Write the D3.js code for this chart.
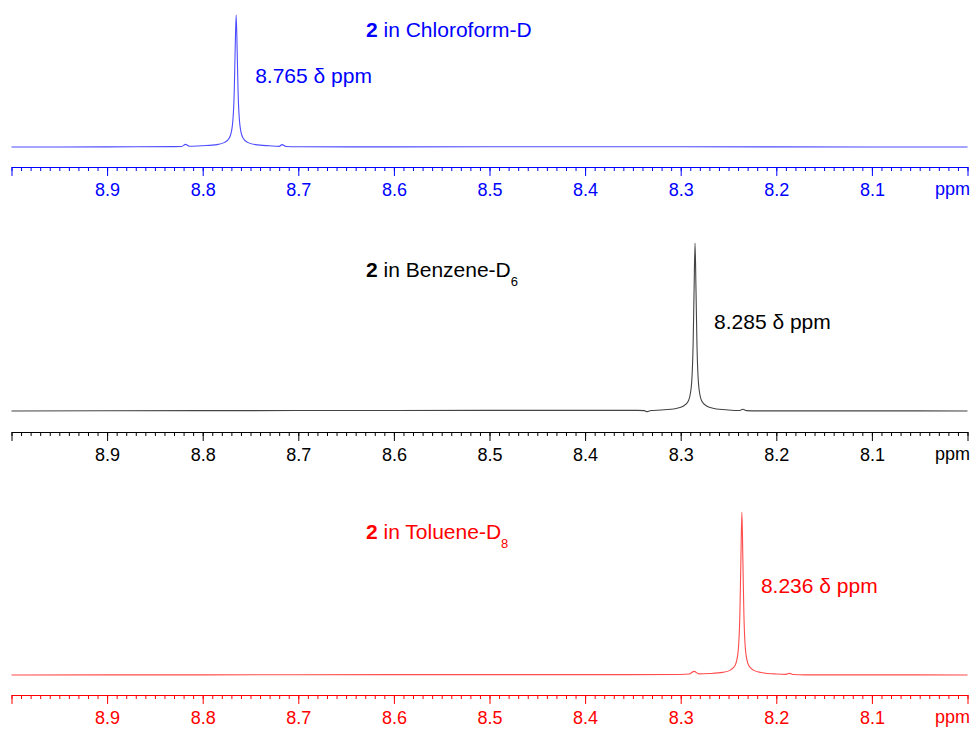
<!DOCTYPE html>
<html>
  <head>
    <meta charset="utf-8">
    <title>NMR shifts</title>
    <script src="https://d3js.org/d3.v7.min.js"></script>
    <style type="text/css">
      body {
        margin: 0;
        background: #ffffff;
        font-family: 'Liberation Sans', Arial, sans-serif;
      }
      svg text {
        font-family: 'Liberation Sans', Arial, sans-serif;
      }
    </style>
  </head>
  <body>
    <div class="chart"></div>
    <script type="text/javascript">
      // axis ticks
      var majorTicks = [9.0, 8.9, 8.8, 8.7, 8.6, 8.5, 8.4, 8.3, 8.2, 8.1, 8.0];
      var tickLabels = ['', '8.9', '8.8', '8.7', '8.6', '8.5', '8.4', '8.3', '8.2', '8.1', ''];

      // panel texts
      var solvents = ['Chloroform-D', 'Benzene-D', 'Toluene-D'];
      var subscripts = ['', '6', '8'];
      var peakShifts = [8.765, 8.285, 8.236];
      var shiftLabels = ['8.765 δ ppm', '8.285 δ ppm', '8.236 δ ppm'];

      // spectra: ppm and intensity (% of main peak)
      var chloroformPpm = [9.0, 8.9, 8.83, 8.822, 8.818, 8.814, 8.80, 8.785, 8.777, 8.772, 8.769, 8.767, 8.766, 8.765, 8.764, 8.763, 8.761, 8.758, 8.753, 8.745, 8.73, 8.72, 8.717, 8.713, 8.70, 8.6, 8.4, 8.2, 8.0];
      var chloroformInt = [0, 0.1, 0.3, 0.4, 2.0, 0.6, 1.0, 1.8, 3.5, 7, 16, 42, 75, 100, 75, 42, 16, 7, 3.5, 1.8, 0.9, 0.5, 1.8, 0.4, 0.2, 0.1, 0.2, 0.1, 0];

      var benzenePpm = [9.0, 8.8, 8.6, 8.4, 8.345, 8.338, 8.335, 8.331, 8.32, 8.305, 8.297, 8.292, 8.289, 8.287, 8.286, 8.285, 8.284, 8.283, 8.281, 8.278, 8.273, 8.265, 8.25, 8.239, 8.235, 8.231, 8.22, 8.1, 8.0];
      var benzeneInt = [0, 0.2, 0.3, 0.4, 0.4, 0.2, -0.4, 0.3, 0.6, 1.5, 3, 6, 14, 40, 72, 100, 72, 40, 14, 6, 3, 1.5, 0.6, 0.3, 1.0, 0.2, 0.1, 0.1, 0];

      var toluenePpm = [9.0, 8.8, 8.6, 8.4, 8.3, 8.291, 8.286, 8.281, 8.27, 8.256, 8.248, 8.243, 8.240, 8.238, 8.237, 8.236, 8.235, 8.234, 8.232, 8.229, 8.224, 8.216, 8.20, 8.19, 8.186, 8.182, 8.17, 8.1, 8.0];
      var tolueneInt = [0, 0.1, 0.2, 0.2, 0.3, 0.6, 2.2, 0.7, 0.9, 1.6, 3, 6, 14, 40, 72, 100, 72, 40, 14, 6, 3, 1.5, 0.6, 0.4, 1.0, 0.3, 0.1, 0.1, 0];

      var width = 973;
      var height = 731;

      var panels = [
        {ppm: chloroformPpm, inten: chloroformInt, base: 147, top: 15, axisY: 167, line: '#4d4dff', color: '#0000ff', titleY: 37, shiftY: 83},
        {ppm: benzenePpm, inten: benzeneInt, base: 411, top: 243, axisY: 432, line: '#444444', color: '#000000', titleY: 277, shiftY: 329},
        {ppm: toluenePpm, inten: tolueneInt, base: 675, top: 512, axisY: 695, line: '#ff4d4d', color: '#ff0000', titleY: 539, shiftY: 593}
      ];

      var svg = d3.select('.chart').append('svg')
        .attr('width', width)
        .attr('height', height);

      var x = d3.scaleLinear().domain([9.0, 8.0]).range([11.5, 967.5]);

      var minorTicks = d3.range(0, 101).map(function(i){ return 9.0 - i * 0.01; });

      panels.forEach(function(p, i) {
        var y = d3.scaleLinear().domain([0, 100]).range([p.base, p.top]);
        var pts = p.ppm.map(function(v, j){ return [v, p.inten[j]]; });

        var line = d3.line()
          .x(function(d){ return x(d[0]); })
          .y(function(d){ return y(d[1]); })
          .curve(d3.curveMonotoneX);

        svg.append('path')
          .datum(pts)
          .attr('d', line)
          .attr('fill', 'none')
          .attr('stroke', p.line)
          .attr('stroke-width', 1.1);

        // minor ticks
        var minor = d3.axisBottom(x)
          .tickValues(minorTicks)
          .tickSize(4)
          .tickSizeOuter(0)
          .tickFormat('');
        var gMinor = svg.append('g')
          .attr('transform', 'translate(0,' + p.axisY + ')')
          .call(minor);
        gMinor.select('.domain').attr('stroke', p.color);
        gMinor.selectAll('.tick line').attr('stroke', p.color);

        // major ticks
        var major = d3.axisBottom(x)
          .tickValues(majorTicks)
          .tickSize(9)
          .tickSizeOuter(0)
          .tickPadding(7)
          .tickFormat(function(d, k){ return tickLabels[k]; });
        var gMajor = svg.append('g')
          .attr('transform', 'translate(0,' + p.axisY + ')')
          .call(major);
        gMajor.select('.domain').remove();
        gMajor.selectAll('.tick line').attr('stroke', p.color);
        gMajor.selectAll('.tick text')
          .attr('fill', p.color)
          .style('font-size', '18px');

        svg.append('text')
          .attr('x', 970)
          .attr('y', p.axisY + 28)
          .attr('text-anchor', 'end')
          .attr('fill', p.color)
          .style('font-size', '18px')
          .text('ppm');

        // title
        var title = svg.append('text')
          .attr('x', 366)
          .attr('y', p.titleY)
          .attr('fill', p.color)
          .style('font-size', '21px');
        title.append('tspan').attr('font-weight', 'bold').text('2');
        title.append('tspan').text(' in ' + solvents[i]);
        if (subscripts[i]) {
          title.append('tspan')
            .attr('dy', 9)
            .style('font-size', '13px')
            .text(subscripts[i]);
        }

        svg.append('text')
          .attr('x', x(peakShifts[i]) + 19)
          .attr('y', p.shiftY)
          .attr('fill', p.color)
          .style('font-size', '21px')
          .text(shiftLabels[i]);
      });
    </script>
  </body>
</html>
